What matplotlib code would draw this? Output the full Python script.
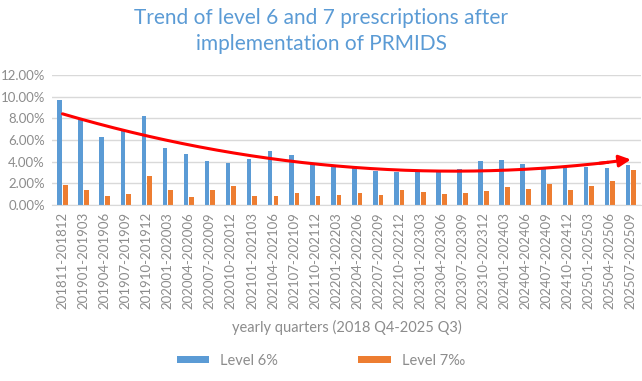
import numpy as np
import matplotlib
matplotlib.use("Agg")
import matplotlib.pyplot as plt

plt.rcParams['font.family'] = ['Lato', 'DejaVu Sans']

# quarters
periods = ["201811-201812", "201901-201903", "201904-201906", "201907-201909", "201910-201912",
           "202001-202003", "202004-202006", "202007-202009", "202010-202012",
           "202101-202103", "202104-202106", "202107-202109", "202110-202112",
           "202201-202203", "202204-202206", "202207-202209", "202210-202212",
           "202301-202303", "202304-202306", "202307-202309", "202310-202312",
           "202401-202403", "202404-202406", "202407-202409", "202410-202412",
           "202501-202503", "202504-202506", "202507-202509"]
# values in %
level6 = [9.69, 7.85, 6.28, 6.86, 8.22, 5.26, 4.71, 4.03, 3.91, 4.28, 4.95, 4.58, 3.78,
          3.54, 3.38, 3.11, 3.02, 3.14, 3.14, 3.32, 4.09, 4.15, 3.78, 3.38, 3.54, 3.48, 3.42, 3.69]
level7 = [1.82, 1.38, 0.80, 1.05, 2.68, 1.38, 0.74, 1.35, 1.78, 0.83, 0.80, 1.11, 0.86,
          0.89, 1.14, 0.92, 1.35, 1.20, 1.02, 1.08, 1.32, 1.69, 1.51, 1.97, 1.42, 1.75, 2.18, 3.26]

BLUE = '#5B9BD5'
ORANGE = '#ED7D31'
GRAY = '#8C8C8C'

fig = plt.figure(figsize=(6.42, 3.81), dpi=100)
ax = fig.add_axes([0.081, 0.462, 0.918, 0.341])

x = np.arange(len(periods))
w = 0.22
ax.bar(x - 0.135, level6, w, color=BLUE, label='Level 6%', zorder=2)
ax.bar(x + 0.135, level7, w, color=ORANGE, label='Level 7‰', zorder=2)

# polynomial (order 2) trend of level 6
coef = np.polyfit(x, level6, 2)
xt = np.linspace(0, x[-1], 200)
yt = np.polyval(coef, xt)
ax.plot(xt[:-8], yt[:-8], color='#FF0000', lw=2.2, zorder=3, solid_capstyle='round')
ax.annotate('', xy=(xt[-1], yt[-1]), xytext=(xt[-12], yt[-12]),
            arrowprops=dict(arrowstyle='-|>,head_length=0.7,head_width=0.35',
                            color='#FF0000', lw=2.2, shrinkA=0, shrinkB=0), zorder=4)

ax.set_xlim(-0.5, len(periods) - 0.5)
ax.set_ylim(0, 12)
ax.set_yticks(np.arange(0, 12.01, 2))
ax.set_yticklabels(['%.2f%%' % v for v in np.arange(0, 12.01, 2)])
ax.set_xticks(x)
ax.set_xticklabels(periods, rotation=90)
ax.tick_params(axis='both', colors=GRAY, labelsize=9.5, length=0)
ax.tick_params(axis='y', pad=5)
ax.tick_params(axis='x', pad=5)
ax.grid(axis='y', color='#D9D9D9', lw=1)
ax.set_axisbelow(True)
for s in ['top', 'right', 'left']:
    ax.spines[s].set_visible(False)
ax.spines['bottom'].set_color('#D9D9D9')

ax.set_xlabel('yearly quarters (2018 Q4-2025 Q3)', color=GRAY, fontsize=10.5, labelpad=8)
fig.suptitle('Trend of level 6 and 7 prescriptions after\nimplementation of PRMIDS',
             color=BLUE, fontsize=15, y=0.98, linespacing=1.4)

fig.legend(loc='lower center', bbox_to_anchor=(0.5, 0.0), ncol=2, frameon=False,
           fontsize=10.5, labelcolor=GRAY, handlelength=2.2, handleheight=0.4, columnspacing=5.5)

fig.savefig('out.png', dpi=100)
